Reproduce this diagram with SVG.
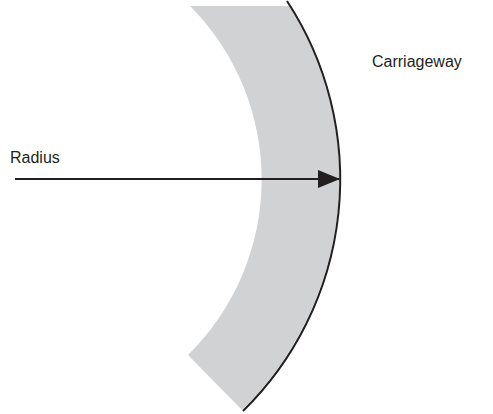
<svg xmlns="http://www.w3.org/2000/svg" width="493" height="414" viewBox="0 0 493 414">
<style>
.lbl{font-family:"Liberation Sans",Arial,sans-serif;font-size:16px;fill:#231f20}
.edge{fill:none;stroke:#231f20;stroke-width:2}
</style>
<defs>
<marker id="ah" markerWidth="22" markerHeight="18" refX="21" refY="9" orient="auto" markerUnits="userSpaceOnUse">
<path d="M0,0 L22,9 L0,18 Z" fill="#231f20"/>
</marker>
</defs>
<g id="carriageway-band">
<path d="M190,6 L290,6 A325,325 0 0 1 242,410 L188,355 A246,246 0 0 0 190,6 Z" fill="#d1d2d4"/>
<path class="edge" d="M287,1 A325,325 0 0 1 243,411"/>
</g>
<g id="connectors">
<line class="edge" x1="15" y1="179" x2="339" y2="179" marker-end="url(#ah)"/>
</g>
<g id="label-radius"><text class="lbl" x="10" y="163">Radius</text></g>
<g id="label-carriageway"><text class="lbl" x="372" y="67">Carriageway</text></g>
</svg>
